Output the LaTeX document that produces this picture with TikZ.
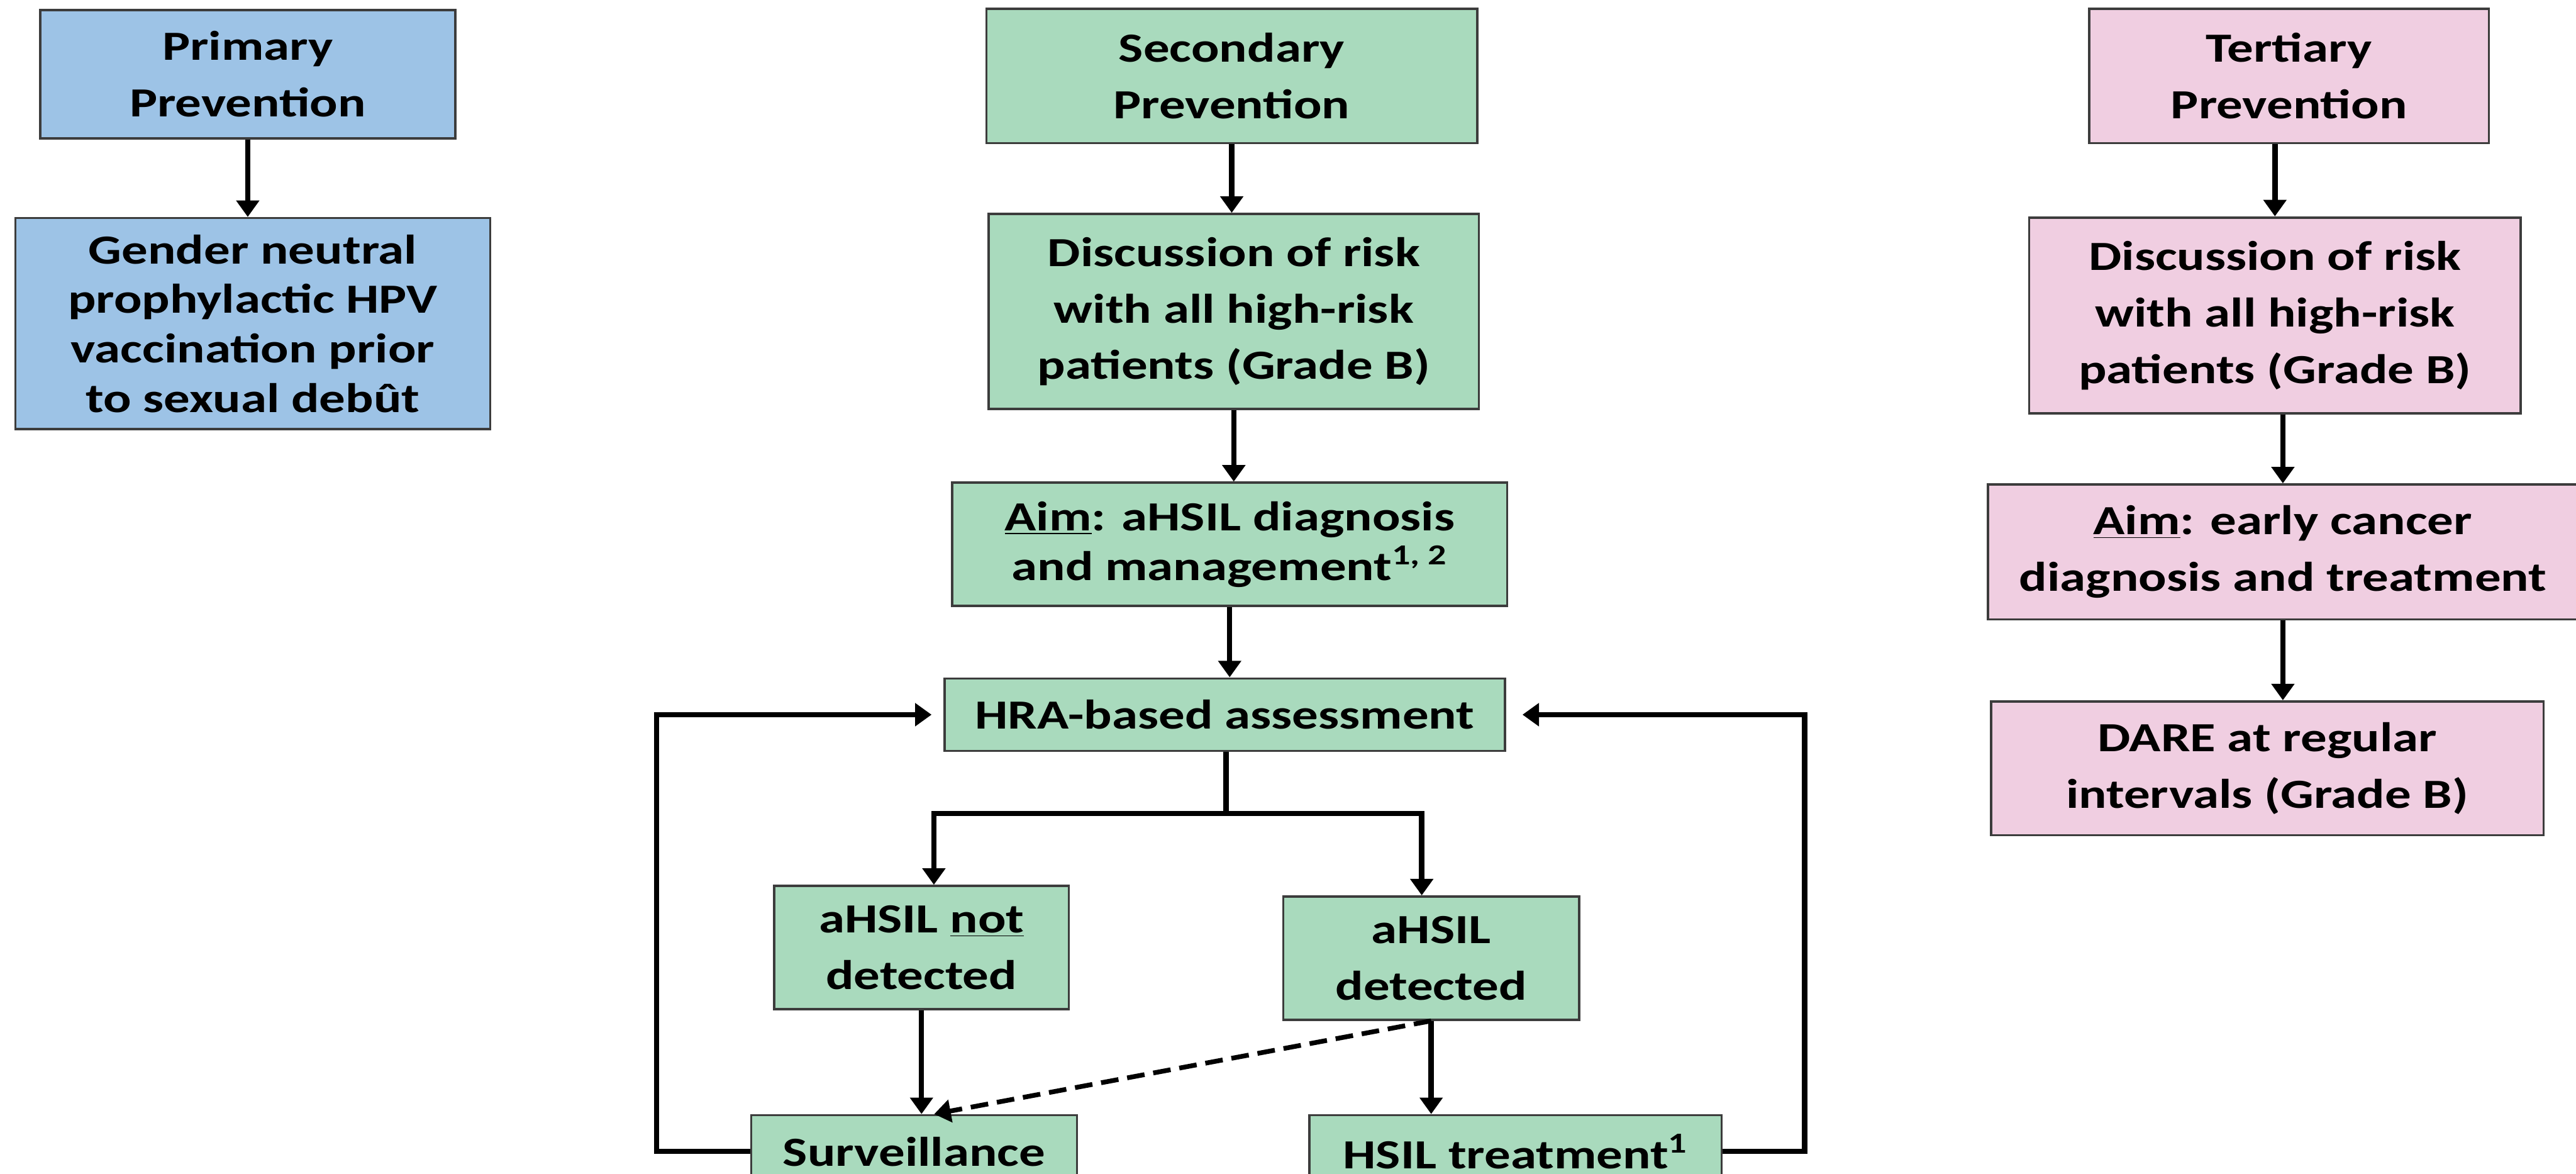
\documentclass[tikz,border=0pt]{standalone}
\usepackage{fontspec}
\setmainfont{Carlito}[FakeStretch=1.26]
\usetikzlibrary{arrows.meta}
\definecolor{primary}{RGB}{157,195,230}
\definecolor{secondary}{RGB}{169,218,189}
\definecolor{tertiary}{RGB}{240,206,225}
\definecolor{boxline}{RGB}{60,60,60}
\tikzstyle{box}=[draw=boxline, line width=1.1pt, align=center, inner sep=0pt, font=\fontsize{20}{27.3}\selectfont\bfseries]
\tikzset{tight/.style={font=\fontsize{20}{23.9}\selectfont\bfseries}}
\tikzset{flow/.style={-{Triangle[width=0.38cm,length=0.28cm]}, line width=0.09cm}}
\tikzstyle{primary}=[fill = primary]
\tikzstyle{secondary}=[fill = secondary]
\tikzstyle{tertiary}=[fill = tertiary]

\begin{document}
\begin{tikzpicture}
  \useasboundingbox (0,0) rectangle (43.72,19.91);
  \clip (0,0) rectangle (43.72,19.91);

  %% Primary prevention
  \draw (4.205,18.65) node[box,primary,minimum width=7.05cm,minimum height=2.18cm] (P1) {Primary\\Prevention};
  \draw (4.29,14.42) node[box,primary,tight,minimum width=8.06cm,minimum height=3.58cm] (P2) {Gender neutral\\prophylactic HPV\\vaccination prior\\to sexual debût};

  %% Secondary prevention
  \draw (20.905,18.62) node[box,secondary,minimum width=8.33cm,minimum height=2.28cm] (S1) {Secondary\\Prevention};
  \draw (20.94,14.625) node[box,secondary,minimum width=8.32cm,minimum height=3.31cm] (S2) {Discussion of risk\\with all high-risk\\patients (Grade B)};
  \draw (20.87,10.675) node[box,secondary,tight,minimum width=9.42cm,minimum height=2.09cm] (S3) {\underline{Aim}: aHSIL diagnosis\\and management\textsuperscript{1, 2}};
  \draw (20.785,7.785) node[box,secondary,minimum width=9.51cm,minimum height=1.23cm] (S4) {HRA-based assessment};
  \draw (15.64,3.835) node[box,secondary,minimum width=5.00cm,minimum height=2.09cm] (S5) {aHSIL \underline{not}\\detected};
  \draw (24.29,3.655) node[box,secondary,minimum width=5.02cm,minimum height=2.09cm] (S6) {aHSIL\\detected};
  \draw (15.515,0.375) node[box,secondary,minimum width=5.53cm,minimum height=1.23cm] (S7) {Surveillance};
  \draw (25.72,0.375) node[box,secondary,minimum width=7.00cm,minimum height=1.23cm] (S8) {HSIL treatment\textsuperscript{1}};

  %% Tertiary prevention
  \draw (38.85,18.62) node[box,tertiary,minimum width=6.78cm,minimum height=2.28cm] (T1) {Tertiary\\Prevention};
  \draw (38.61,14.56) node[box,tertiary,minimum width=8.34cm,minimum height=3.32cm] (T2) {Discussion of risk\\with all high-risk\\patients (Grade B)};
  \draw (38.745,10.545) node[box,tertiary,minimum width=10.01cm,minimum height=2.29cm] (T3) {\underline{Aim}: early cancer\\diagnosis and treatment};
  \draw (38.48,6.875) node[box,tertiary,minimum width=9.38cm,minimum height=2.27cm] (T4) {DARE at regular\\intervals (Grade B)};

  %% Arrows
  \draw[flow] (P1) -- (P1 |- P2.north);

  \draw[flow] (S1) -- (S1 |- S2.north);
  \draw[flow] (S2) -- (S2 |- S3.north);
  \draw[flow] (S3) -- (S3 |- S4.north);
  \coordinate (J) at (20.81,6.11);
  \draw[flow] (S4.south -| J) -- (J) -| ([xshift=2.1mm]S5.north);
  \draw[flow] (J) -| ([xshift=-1.6mm]S6.north);
  \draw[flow] (S5) -- (S5 |- S7.north);
  \draw[flow] (S6) -- (S6 |- S8.north);
  \draw[flow,line width=0.08cm,dash pattern=on 0.3cm off 0.15cm] (S6.south) -- ([xshift=3.4mm]S7.north);
  \draw[flow,shorten >=0.2cm] (S7.west) -- ++(-1.59,0) |- (S4.west);
  \draw[flow,shorten >=0.28cm] (S8.east) -- ++(1.39,0) |- (S4.east);

  \draw[flow] (T2.north |- T1.south) -- (T2.north);
  \draw[flow] (T3.north |- T2.south) -- (T3.north);
  \draw[flow] (T3) -- (T3 |- T4.north);
\end{tikzpicture}
\end{document}
